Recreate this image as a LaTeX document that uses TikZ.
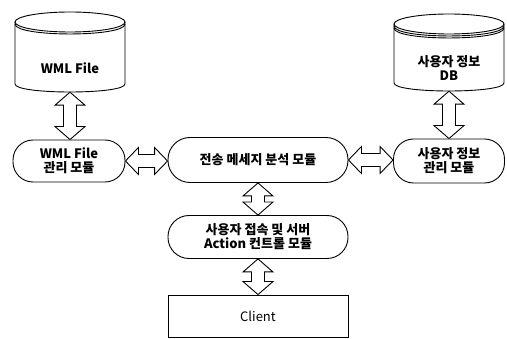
\documentclass[tikz,border=0pt]{standalone}
\usepackage{fontspec}
\setmainfont{Noto Sans CJK KR}
\usetikzlibrary{calc}
\tikzset{
  lbl/.style={align=center,font=\bfseries\fontsize{13}{14}\selectfont},
  pill/.style={draw,line width=0.9pt,rounded corners=20pt,lbl,inner sep=0pt},
  box/.style={draw,line width=0.9pt,inner sep=0pt,font=\fontsize{13}{14}\selectfont},
  blk/.style={draw,line width=0.9pt,fill=white,line join=miter},
  cylline/.style={line width=0.9pt},
}
\newcommand{\mycyl}[5]{% name, cx, top, bottom, halfwidth
  \node[inner sep=0pt,minimum width=2*#5 pt,minimum height=#4-#3 pt] (#1) at (#2,{(#3+#4)/2}) {};
  \draw[cylline] (#2-#5,#3+10) -- (#2-#5,#4-8)
     .. controls (#2-#5,#4+2.67) and (#2+#5,#4+2.67) .. (#2+#5,#4-8) -- (#2+#5,#3+10);
  \draw[cylline] (#2,#3+10) ellipse [x radius=#5,y radius=10];
  \draw[cylline] (#2-#5,#3+12) .. controls (#2-#5,#3+25.3) and (#2+#5,#3+25.3) .. (#2+#5,#3+12);
}
\newcommand{\varr}[2]{%
  \draw[blk] let \p1=(#1), \p2=(#2) in
    (\x1,\y1) -- (\x1+15pt,\y1-13pt) -- (\x1+6.5pt,\y1-13pt) -- (\x1+6.5pt,\y2+13pt)
    -- (\x1+15pt,\y2+13pt) -- (\x1,\y2) -- (\x1-15pt,\y2+13pt) -- (\x1-6.5pt,\y2+13pt)
    -- (\x1-6.5pt,\y1-13pt) -- (\x1-15pt,\y1-13pt) -- cycle;}
\newcommand{\harr}[2]{%
  \draw[blk] let \p1=(#1), \p2=(#2) in
    (\x1,\y1) -- (\x1+13pt,\y1+13.5pt) -- (\x1+13pt,\y1+6.5pt) -- (\x2-13pt,\y1+6.5pt)
    -- (\x2-13pt,\y1+13.5pt) -- (\x2,\y1) -- (\x2-13pt,\y1-13.5pt) -- (\x2-13pt,\y1-6.5pt)
    -- (\x1+13pt,\y1-6.5pt) -- (\x1+13pt,\y1-13.5pt) -- cycle;}
\begin{document}
\begin{tikzpicture}[x=1pt,y=-1pt]
\useasboundingbox (0,0) rectangle (507,339);
% cylinders
\mycyl{lcyl}{70}{12}{92}{55}
\node[lbl] at (70,68) {WML File};
\mycyl{rcyl}{449}{14}{91}{55}
\draw[cylline] (394,28) .. controls (394,41.3) and (504,41.3) .. (504,28);
\node[lbl] at (449,68) {사용자 정보\\DB};
% pills
\node[pill,minimum width=112pt,minimum height=42pt] (lpill) at (69,161) {WML File\\관리 모듈};
\node[pill,minimum width=180pt,minimum height=45pt,rounded corners=22pt] (mpill) at (258,160) {전송 메세지 분석 모듈};
\node[pill,minimum width=111pt,minimum height=44pt] (rpill) at (449,161) {사용자 정보\\관리 모듈};
\node[pill,minimum width=180pt,minimum height=43pt,rounded corners=21pt] (dpill) at (258,237) {사용자 접속 및 서버\\Action 컨트롤 모듈};
\node[box,minimum width=180pt,minimum height=42pt] (client) at (258,316) {Client};
% arrows
\varr{lcyl.south}{lpill.north}
\varr{rcyl.south}{rpill.north}
\varr{mpill.south}{dpill.north}
\varr{dpill.south}{client.north}
\harr{lpill.east}{mpill.west}
\harr{mpill.east}{rpill.west}
\end{tikzpicture}
\end{document}
